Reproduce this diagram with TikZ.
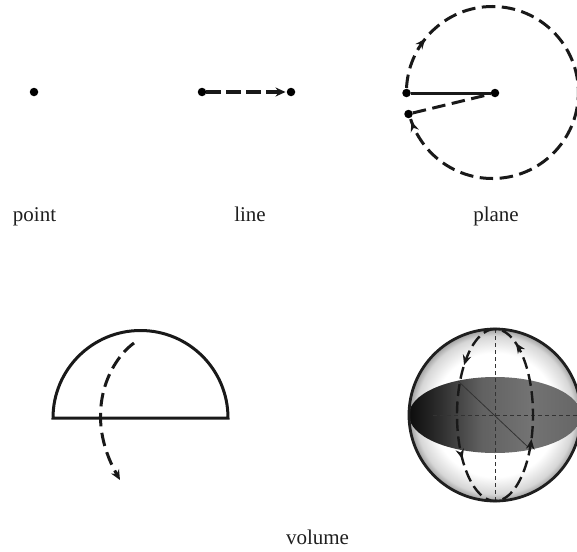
\documentclass[tikz,border=0pt]{standalone}
\usepackage{fontspec}
\setmainfont{Liberation Serif}
\usetikzlibrary{arrows.meta,decorations.markings}
\pgfdeclareradialshading{ballring}{\pgfpoint{0bp}{0bp}}{color(0bp)=(white);color(18bp)=(white);color(23bp)=(black!16);color(25bp)=(black!38);color(50bp)=(black!38)}
\pgfdeclarehorizontalshading{discshade}{100bp}{color(0bp)=(black!95);color(25bp)=(black!95);color(34bp)=(black!82);color(46bp)=(black!62);color(60bp)=(black!55);color(75bp)=(black!60);color(100bp)=(black!60)}
\tikzset{
  dotpt/.style={circle,fill=black,inner sep=0pt,minimum size=8.5pt},
  heavy/.style={line width=3pt,black!90},
  dashline/.style={heavy,dash pattern=on 13.5pt off 6.5pt},
  thinrule/.style={line width=.8pt,black!80},
  thindash/.style={thinrule,line width=1pt,dash pattern=on 4pt off 3pt},
  lab/.style={font=\fontsize{21}{24}\selectfont,inner sep=0pt,text=black!88,anchor=base},
  tip/.style={-{Stealth[length=10pt,width=9pt]}},
  markat/.style={postaction={decorate,decoration={markings,mark=at position #1 with {\arrow[solid]{Stealth[length=10pt,width=8.5pt]}}}}}
}
\begin{document}
\begin{tikzpicture}[yscale=-1,x=1pt,y=1pt]
\useasboundingbox (0,0) rectangle (577,551);
% point
\node[dotpt] (p0) at (34,92) {};
\node[lab] (t0) at (34.5,221) {point};
% line
\node[dotpt] (l0) at (202,92) {};
\node[dotpt] (l1) at (291,92) {};
\draw[dashline,line width=3.4pt,dash pattern=on 15pt off 5pt,tip,shorten >=1pt] (l0) -- (l1);
\node[lab] (t1) at (250,221) {line};
% plane
\node[dotpt] (c0) at (495,93) {};
\node[dotpt] (c1) at (406.5,93) {};
\node[dotpt] (c2) at (408.5,114) {};
\draw[heavy] (c1) -- (c0);
\draw[dashline] (c2) -- (c0);
\draw[dashline,markat=.105,markat=.995] (406.5,88) arc[radius=86pt,start angle=183,end angle=522];
\node[lab] (t2) at (496,221) {plane};
% hemisphere
\draw[heavy] (53,418) arc[radius=87.5pt,start angle=180,end angle=360] -- cycle;
\coordinate (h0) at (134,343);
\coordinate (h1) at (120,480);
\draw[dashline,tip] (h0) .. controls (108,362) and (83,415) .. (h1);
% sphere
\shade[shading=ballring] (495,415) circle[radius=86pt];
\shade[shading=discshade] (495,415) ellipse[x radius=86pt,y radius=38pt];
\node[inner sep=0pt,minimum size=0pt] (s0) at (495,415) {};
\coordinate (st) at (495,329);
\coordinate (sb) at (495,501);
\coordinate (sl) at (433,415);
\coordinate (sr) at (578,415);
\coordinate (d0) at (458,381);
\coordinate (d1) at (528,447);
\draw[thindash] (st) -- (sb);
\draw[thindash] (sl) -- (sr);
\draw[thinrule] (d0) -- (d1);
\draw[dashline,line width=2.4pt,dash pattern=on 12pt off 5.5pt,markat=.125,markat=.36,markat=.69,markat=.935] (495,329) arc[x radius=38pt,y radius=86pt,start angle=270,end angle=-90];
\draw[line width=2.8pt,black!88] (495,415) circle[radius=86pt];
\node[lab] (t3) at (317.5,544) {volume};
\end{tikzpicture}
\end{document}
